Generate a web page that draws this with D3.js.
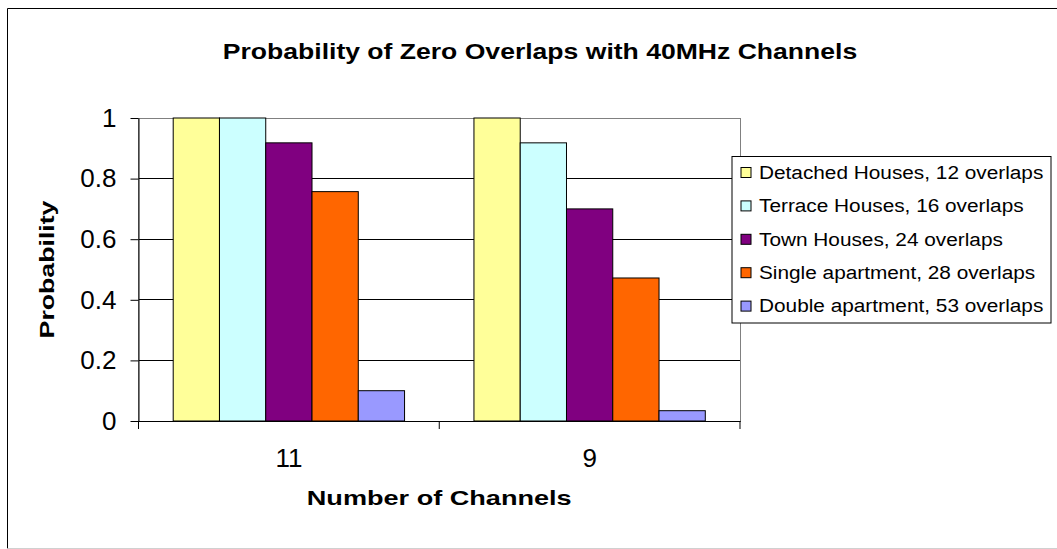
<!DOCTYPE html>
<html>
<head>
<meta charset="utf-8">
<script src="https://cdn.jsdelivr.net/npm/d3@7"></script>
<style>
  body { margin: 0; background: #fff; }
  text { font-family: Arial, "Liberation Sans", sans-serif; fill: #000; }
</style>
</head>
<body>
<svg id="chart"></svg>
<script>
// Chart data
const categories = ['11', '9'];
const seriesNames = [
  'Detached Houses, 12 overlaps',
  'Terrace Houses, 16 overlaps',
  'Town Houses, 24 overlaps',
  'Single apartment, 28 overlaps',
  'Double apartment, 53 overlaps'
];
const seriesColors = ['#ffff99', '#ccffff', '#800080', '#ff6600', '#9999ff'];
const detachedValues = [1.0, 1.0];
const terraceValues = [1.0, 0.918];
const townValues = [0.918, 0.70];
const singleValues = [0.757, 0.472];
const doubleValues = [0.10, 0.034];
const yTicks = [0, 0.2, 0.4, 0.6, 0.8, 1];

const seriesValues = [detachedValues, terraceValues, townValues, singleValues, doubleValues];

const width = 1057;
const height = 549;
const plot = { left: 138.5, right: 740, top: 118, bottom: 421 };

const svg = d3.select('#chart')
  .attr('width', width)
  .attr('height', height);

// Excel renders these fonts wider than Arial, so stretch the glyphs a bit
function stretch(sel, k) {
  sel.each(function() {
    const len = this.getComputedTextLength();
    d3.select(this)
      .attr('textLength', len * k)
      .attr('lengthAdjust', 'spacingAndGlyphs');
  });
}

// Chart area border (right edge falls outside the picture)
svg.append('path')
  .attr('d', `M${width + 5},8.5H7.5V548.5`)
  .attr('fill', 'none')
  .attr('stroke', '#000');
svg.append('path')
  .attr('d', `M7.5,548.5H${width + 5}`)
  .attr('stroke', '#d0d0d0');

// Scales
const x = d3.scaleBand()
  .domain(categories)
  .range([plot.left, plot.right]);

const xs = d3.scaleBand()
  .domain(seriesNames)
  .range([0, x.bandwidth()])
  .paddingOuter(0.75);

const y = d3.scaleLinear()
  .domain([0, 1])
  .range([plot.bottom, plot.top]);

// Plot area border
svg.append('rect')
  .attr('x', plot.left)
  .attr('y', plot.top)
  .attr('width', plot.right - plot.left)
  .attr('height', plot.bottom - plot.top)
  .attr('fill', '#fff')
  .attr('stroke', '#808080')
  .attr('shape-rendering', 'crispEdges');

// Gridlines
svg.append('g')
  .selectAll('line')
  .data(yTicks.filter(d => d > 0 && d < 1))
  .enter()
  .append('line')
  .attr('x1', plot.left)
  .attr('x2', plot.right)
  .attr('y1', d => y(d))
  .attr('y2', d => y(d))
  .attr('stroke', '#000')
  .attr('shape-rendering', 'crispEdges');

// Bars
const groups = svg.append('g')
  .selectAll('g')
  .data(seriesNames)
  .enter()
  .append('g')
  .attr('fill', (d, i) => seriesColors[i]);

groups.selectAll('rect')
  .data((name, i) => categories.map((c, j) => ({ name, cat: c, value: seriesValues[i][j] })))
  .enter()
  .append('rect')
  .attr('x', d => x(d.cat) + xs(d.name))
  .attr('y', d => y(d.value))
  .attr('width', xs.bandwidth())
  .attr('height', d => y(0) - y(d.value))
  .attr('stroke', '#000')
  .attr('stroke-width', 1);

// Y axis
const yAxis = svg.append('g')
  .attr('transform', `translate(${plot.left},0)`)
  .call(d3.axisLeft(y)
    .tickValues(yTicks)
    .tickSize(8)
    .tickSizeOuter(0)
    .tickPadding(14)
    .tickFormat(d => String(d)));
yAxis.selectAll('path, line').attr('stroke', '#000');
yAxis.selectAll('text')
  .attr('font-size', 26)
  .attr('font-family', 'Arial, "Liberation Sans", sans-serif');

// X axis (labels at band centres, ticks at band edges)
const xAxis = svg.append('g')
  .attr('transform', `translate(0,${plot.bottom})`)
  .call(d3.axisBottom(x)
    .tickSize(0)
    .tickSizeOuter(0)
    .tickPadding(28));
xAxis.select('.domain').attr('stroke', '#000');
xAxis.selectAll('text')
  .attr('font-size', 26)
  .attr('font-family', 'Arial, "Liberation Sans", sans-serif');

const edges = Array.from(new Set(categories.flatMap(c => [x(c), x(c) + x.bandwidth()])));
xAxis.selectAll('.edge-tick')
  .data(edges)
  .enter()
  .append('line')
  .attr('class', 'edge-tick')
  .attr('x1', d => d)
  .attr('x2', d => d)
  .attr('y1', 0)
  .attr('y2', 8)
  .attr('stroke', '#000');

// Titles
svg.append('text')
  .attr('x', 540)
  .attr('y', 58.5)
  .attr('text-anchor', 'middle')
  .attr('font-size', 22.5)
  .attr('font-weight', 'bold')
  .text('Probability of Zero Overlaps with 40MHz Channels')
  .call(stretch, 1.18);

svg.append('text')
  .attr('x', (plot.left + plot.right) / 2)
  .attr('y', 505)
  .attr('text-anchor', 'middle')
  .attr('font-size', 21)
  .attr('font-weight', 'bold')
  .text('Number of Channels')
  .call(stretch, 1.29);

svg.append('text')
  .attr('transform', `translate(53.5,${(plot.top + plot.bottom) / 2}) rotate(-90)`)
  .attr('text-anchor', 'middle')
  .attr('font-size', 21)
  .attr('font-weight', 'bold')
  .text('Probability')
  .call(stretch, 1.27);

// Legend
const legend = svg.append('g').attr('transform', 'translate(732,156.5)');
const rowStep = 33.4;

legend.append('rect')
  .attr('width', 319)
  .attr('height', 166.5)
  .attr('fill', '#fff')
  .attr('stroke', '#000');

const rows = legend.selectAll('.row')
  .data(seriesNames)
  .enter()
  .append('g')
  .attr('class', 'row')
  .attr('transform', (d, i) => `translate(0,${16 + i * rowStep})`);

rows.append('rect')
  .attr('x', 9)
  .attr('y', -5)
  .attr('width', 10)
  .attr('height', 10)
  .attr('fill', (d, i) => seriesColors[i])
  .attr('stroke', '#000');

rows.append('text')
  .attr('x', 27)
  .attr('y', 6.3)
  .attr('font-size', 18)
  .text(d => d)
  .call(stretch, 1.155);
</script>
</body>
</html>
